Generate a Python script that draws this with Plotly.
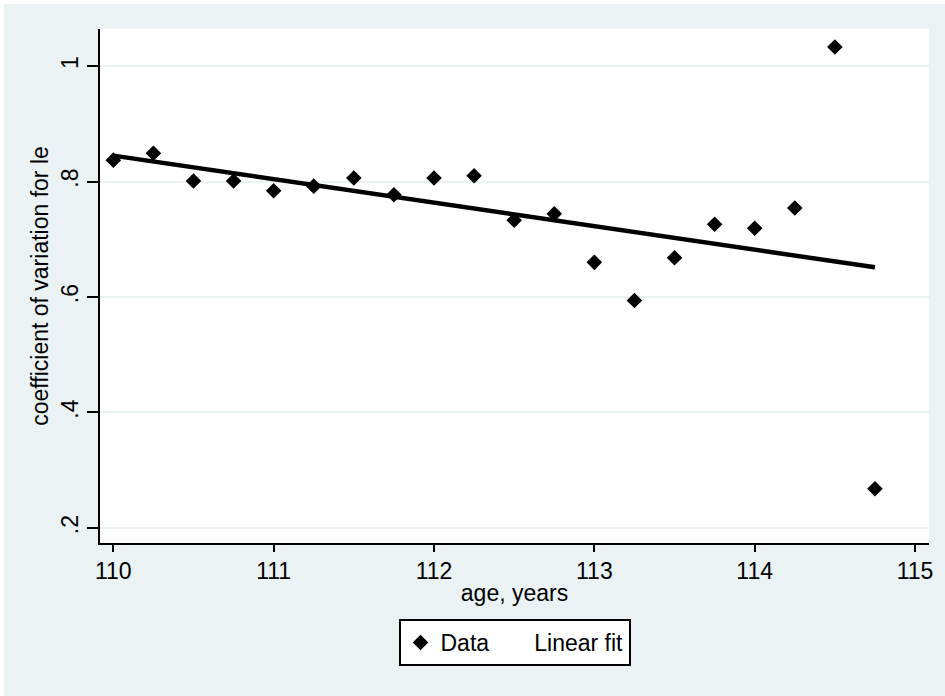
import numpy as np
import plotly.graph_objects as go

# ---- data ----
age = [110.00, 110.25, 110.50, 110.75, 111.00, 111.25, 111.50, 111.75, 112.00, 112.25,
       112.50, 112.75, 113.00, 113.25, 113.50, 113.75, 114.00, 114.25, 114.50, 114.75]
cv = [0.837, 0.849, 0.801, 0.801, 0.784, 0.792, 0.806, 0.777, 0.806, 0.810,
      0.733, 0.744, 0.660, 0.594, 0.668, 0.726, 0.719, 0.754, 1.033, 0.268]
y_tickvals = [0.2, 0.4, 0.6, 0.8, 1.0]
y_ticktext = [".2", ".4", ".6", ".8", "1"]
x_tickvals = [110, 111, 112, 113, 114, 115]
x_ticktext = ["110", "111", "112", "113", "114", "115"]

# linear fit
slope, intercept = np.polyfit(age, cv, 1)
fit_x = [min(age), max(age)]
fit_y = [intercept + slope * v for v in fit_x]

BG = "#EAF2F3"
FONT = "Liberation Sans, Arial, sans-serif"

fig = go.Figure()
fig.add_trace(go.Scatter(x=age, y=cv, mode="markers", name="Data",
                         marker=dict(symbol="diamond", size=12, color="black",
                                     line=dict(width=0))))
fig.add_trace(go.Scatter(x=fit_x, y=fit_y, mode="lines", name="Linear fit",
                         line=dict(color="black", width=4.5), showlegend=False))
fig.add_trace(go.Scatter(x=[None], y=[None], mode="lines", name="Linear fit",
                         line=dict(color="rgba(0,0,0,0)", width=4)))

# plot area in pixels: x 100..929, y 29..543
L, R, T, B = 100, 929, 29, 543
W, H = R - L, B - T
def px(xp):
    return (xp - L) / W
def py(yp):
    return (B - yp) / H

fig.update_layout(
    width=945, height=696,
    margin=dict(l=L, r=945 - R, t=T, b=696 - B),
    paper_bgcolor="white",
    plot_bgcolor="rgba(0,0,0,0)",
    font=dict(family=FONT, size=23, color="black"),
    showlegend=True,
    legend=dict(orientation="h", x=0.5, xanchor="center",
                y=py(619), yanchor="top",
                bgcolor="white", bordercolor="black", borderwidth=2,
                font=dict(size=23), itemwidth=30),
    shapes=[
        dict(type="rect", xref="paper", yref="paper", layer="below",
             x0=px(4), x1=px(945), y0=py(696), y1=py(4),
             fillcolor=BG, line=dict(width=0)),
        dict(type="rect", xref="paper", yref="paper", layer="below",
             x0=0, x1=1, y0=0, y1=1,
             fillcolor="white", line=dict(width=0)),
    ],
    xaxis=dict(range=[109.917, 115.087], tickvals=x_tickvals, ticktext=x_ticktext,
               showgrid=False, zeroline=False, showline=True, linecolor="black",
               linewidth=1.5, ticks="outside", ticklen=7, tickwidth=1.5,
               tickcolor="black",
               title=dict(text="age, years", standoff=2, font=dict(size=23))),
    yaxis=dict(range=[0.174, 1.0641], tickvals=y_tickvals, ticktext=y_ticktext,
               tickangle=-90, showgrid=True, gridcolor=BG, gridwidth=1.5,
               zeroline=False, showline=True, linecolor="black", linewidth=1.5,
               ticks="outside", ticklen=11, tickwidth=1.5, tickcolor="black",
               title=dict(text="coefficient of variation for le", standoff=2,
                          font=dict(size=23))),
)

fig.write_html("out.html")
